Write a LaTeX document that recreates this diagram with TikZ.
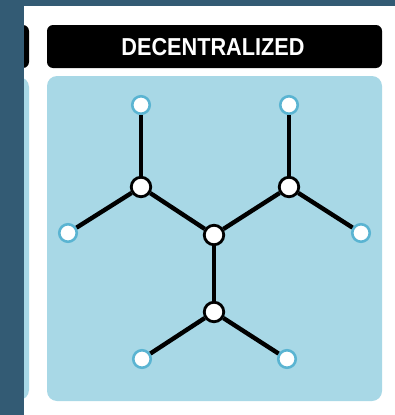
\documentclass[tikz,border=0pt]{standalone}
\usepackage{fontspec}
\setmainfont{Liberation Sans}
\definecolor{frame}{HTML}{335B74}
\definecolor{panel}{HTML}{A8D8E6}
\definecolor{leafring}{HTML}{5AB4D2}
\begin{document}
\begin{tikzpicture}[x=1pt,y=-1pt,
  edge/.style={line width=4.4pt,black},
  hub/.style={circle,draw=black,fill=white,line width=2.8pt,minimum size=19.5pt,inner sep=0pt},
  leaf/.style={circle,draw=leafring,fill=white,line width=2.6pt,minimum size=17.5pt,inner sep=0pt},
  tab/.style={fill=black,rounded corners=6pt},
  pane/.style={fill=panel,rounded corners=10pt}]
\useasboundingbox (0,0) rectangle (395,415);
\fill[frame] (0,0) rectangle (395,415);
\fill[white] (24,6) rectangle (395,415);
% partial left panel
\begin{scope}
\clip (24,6) rectangle (395,415);
\fill[tab] (-100,25) rectangle (29,68);
\fill[pane] (-100,77) rectangle (29,400);
\end{scope}
% title bar
\fill[tab] (47,25) rectangle (382,68);
\node[text=white,font=\bfseries\fontsize{24.5}{25}\selectfont,xscale=0.885,inner sep=0pt] (title) at (213,47) {DECENTRALIZED};
% panel
\fill[pane] (47,76) rectangle (382,401);
% nodes
\node[hub] (lh) at (141,187) {};
\node[hub] (rh) at (289,187) {};
\node[hub] (c) at (214,235) {};
\node[hub] (bh) at (214,312) {};
\node[leaf] (tl) at (141,105) {};
\node[leaf] (tr) at (289,105) {};
\node[leaf] (l) at (68,233) {};
\node[leaf] (r) at (361,233) {};
\node[leaf] (bl) at (142,359) {};
\node[leaf] (br) at (287,359) {};
% edges
\draw[edge] (tl) -- (lh);
\draw[edge] (l) -- (lh);
\draw[edge] (lh) -- (c);
\draw[edge] (tr) -- (rh);
\draw[edge] (r) -- (rh);
\draw[edge] (rh) -- (c);
\draw[edge] (c) -- (bh);
\draw[edge] (bh) -- (bl);
\draw[edge] (bh) -- (br);
\end{tikzpicture}
\end{document}
